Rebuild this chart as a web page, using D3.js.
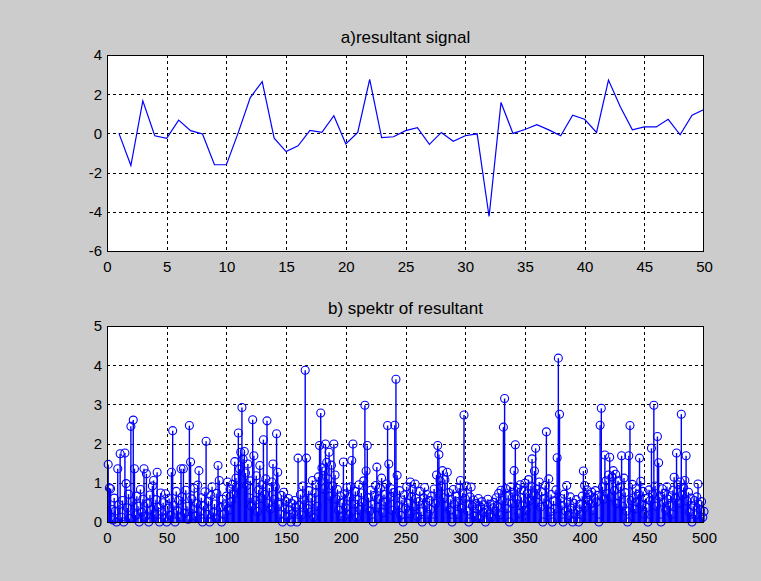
<!DOCTYPE html>
<html><head><meta charset="utf-8">
<script src="https://cdn.jsdelivr.net/npm/d3@7"></script>
<style>
html,body{margin:0;padding:0;background:#cccccc;}
svg{display:block;}
text{font-family:"Liberation Sans",Arial,Helvetica,sans-serif;fill:#000;}
</style></head>
<body>
<script>
// ---- top subplot: resultant signal (samples 1..50)
const signalX = d3.range(1, 51);
const signalY = [0.0,-1.64,1.66,-0.12,-0.25,0.68,0.14,-0.03,-1.6,-1.6,
  0.05,1.83,2.64,-0.24,-0.93,-0.63,0.15,0.05,0.9,-0.54,
  0.05,2.76,-0.22,-0.17,0.14,0.29,-0.56,0.05,-0.4,-0.12,
  -0.02,-4.24,1.58,0.0,0.2,0.45,0.18,-0.12,0.93,0.72,
  0.05,2.72,1.35,0.18,0.33,0.33,0.72,-0.07,0.93,1.22];
const topXTicks = [0,5,10,15,20,25,30,35,40,45,50];
const topYTicks = [-6,-4,-2,0,2,4];
const topTitle = "a)resultant signal";

// ---- bottom subplot: spectrum of resultant (samples 1..500)
const spectrumY = [
1.47,0.87,0.85,0.32,0.05,0.61,0.28,0.0,1.36,0.44,1.74,0.12,0.55,0.0,1.76,0.98,0.36,0.71,0.09,2.44,
0.52,2.6,1.36,0.18,0.66,0.4,0.0,0.83,0.25,0.58,1.36,0.14,1.23,0.47,0.0,0.69,0.31,0.92,1.06,0.2,
0.57,1.27,0.38,0.0,0.74,0.26,0.49,0.11,0.72,0.0,0.35,0.6,0.17,1.27,2.33,0.42,0.0,0.78,0.29,0.55,
0.13,1.36,0.64,1.36,0.22,0.81,0.4,0.07,2.46,1.53,0.59,0.33,0.86,0.15,0.48,0.94,1.31,0.27,0.62,0.0,
0.41,0.77,2.06,0.19,0.53,0.0,0.68,0.9,0.24,0.46,0.1,0.73,1.44,1.06,0.37,0.0,0.58,0.21,0.44,0.66,
1.02,0.3,0.84,0.52,0.96,0.71,1.54,1.12,0.88,2.27,1.35,1.78,2.92,1.6,1.8,1.25,0.93,1.48,0.62,1.05,
0.4,2.61,1.69,0.55,1.18,0.27,0.82,1.44,0.6,0.95,2.1,0.7,1.1,2.58,0.48,0.87,0.33,1.02,1.48,0.58,
0.9,2.25,1.27,0.45,0.2,0.68,0.0,0.76,0.36,0.52,0.14,0.6,0.31,0.0,0.47,0.22,0.55,0.38,0.0,1.63,
0.43,0.7,0.18,0.92,0.56,3.87,1.63,0.34,0.8,0.25,0.61,1.06,0.12,0.74,0.95,0.4,1.15,1.95,2.78,1.38,
0.85,1.3,1.99,1.52,1.1,1.78,0.66,1.45,0.92,1.99,1.2,0.58,0.83,0.3,0.67,0.15,0.49,1.53,0.72,0.36,
0.88,0.2,0.64,0.9,1.57,1.99,0.46,0.78,0.11,0.57,0.95,0.32,0.74,0.5,1.05,2.98,1.3,1.95,0.62,0.28,
0.81,0.45,0.0,0.68,0.93,1.4,0.37,0.59,0.86,1.12,0.24,0.7,0.51,0.97,2.46,1.48,0.63,0.85,0.3,0.75,
2.47,3.64,1.19,0.42,0.8,0.17,0.56,0.0,0.69,0.34,0.9,0.48,0.21,1.02,0.65,0.83,0.39,0.97,0.6,0.14,
0.52,0.78,0.26,0.0,0.61,0.88,0.43,0.7,0.19,0.55,0.32,0.66,0.0,0.84,0.47,1.2,1.95,1.72,1.05,0.9,
1.31,0.62,1.08,0.4,1.27,0.75,0.3,0.58,0.0,0.83,0.45,0.66,0.2,0.52,0.87,1.06,0.35,0.74,2.73,0.6,
0.92,0.28,0.0,0.64,0.89,0.41,0.56,0.15,0.47,0.33,0.6,0.09,0.38,0.52,0.24,0.44,0.0,0.31,0.58,0.2,
0.45,0.12,0.36,0.5,0.27,0.62,0.4,0.73,0.18,0.81,0.55,2.42,3.15,0.85,0.34,0.68,0.0,0.9,0.47,0.76,
1.31,1.97,0.58,0.86,0.22,0.95,0.63,0.41,0.8,0.99,0.3,0.72,1.08,0.55,0.92,1.61,0.67,1.3,1.88,0.84,
0.5,1.02,0.38,0.77,0.0,0.6,0.93,2.3,0.45,1.1,0.26,0.7,0.0,0.54,0.33,0.82,1.64,4.18,2.75,0.6,
0.42,0.0,0.71,0.28,0.93,0.5,0.17,0.64,0.35,0.0,0.48,0.22,0.57,0.31,0.0,0.45,0.19,0.66,1.3,0.93,
0.38,0.82,0.55,0.7,0.46,0.76,0.3,0.62,0.8,0.51,0.68,0.0,2.47,2.9,0.9,0.58,1.71,1.05,0.72,1.2,
1.65,0.63,1.15,1.31,0.8,1.22,0.47,1.05,0.66,0.9,1.69,0.4,1.12,0.75,0.28,0.0,1.69,2.46,0.55,0.96,
0.62,0.33,0.85,0.5,0.71,1.63,1.04,0.44,0.78,0.2,0.6,0.37,0.0,0.82,0.55,1.88,0.7,2.98,0.92,0.4,
2.18,1.51,0.64,0.0,0.85,0.5,0.73,0.3,0.9,0.58,0.42,0.67,0.2,0.81,1.14,0.6,1.76,0.95,0.48,1.02,
2.75,0.7,0.88,1.06,1.69,0.53,0.76,0.25,0.61,0.0,0.4,0.55,0.18,0.64,0.97,0.45,0.3,0.52,0.12,0.27];
const spectrumX = d3.range(1, spectrumY.length + 1);
const botXTicks = [0,50,100,150,200,250,300,350,400,450,500];
const botYTicks = [0,1,2,3,4,5];
const botTitle = "b) spektr of resultant";

const W = 761, H = 581;
const svg = d3.select("body").append("svg").attr("width", W).attr("height", H);
svg.append("rect").attr("width", W).attr("height", H).attr("fill", "#cccccc");

function drawAxes(box, xDom, yDom, xTicks, yTicks, title) {
  const x = d3.scaleLinear().domain(xDom).range([box.l, box.r]);
  const y = d3.scaleLinear().domain(yDom).range([box.b, box.t]);
  const g = svg.append("g");
  g.append("rect").attr("x", box.l).attr("y", box.t)
    .attr("width", box.r - box.l).attr("height", box.b - box.t).attr("fill", "#fff");
  // grid
  const grid = g.append("g").attr("stroke", "#000").attr("stroke-width", 1)
    .attr("stroke-dasharray", "3,3").attr("shape-rendering", "crispEdges");
  xTicks.slice(1, -1).forEach(v => grid.append("line")
    .attr("x1", Math.round(x(v)) + 0.5).attr("x2", Math.round(x(v)) + 0.5)
    .attr("y1", box.t).attr("y2", box.b));
  yTicks.slice(1, -1).forEach(v => grid.append("line")
    .attr("y1", Math.round(y(v)) + 0.5).attr("y2", Math.round(y(v)) + 0.5)
    .attr("x1", box.l).attr("x2", box.r));
  // axes with labels
  const fmt = d => String(d);
  const xa = g.append("g").attr("transform", `translate(0,${box.b})`)
    .call(d3.axisBottom(x).tickValues(xTicks).tickFormat(fmt).tickSize(0).tickPadding(10));
  const ya = g.append("g").attr("transform", `translate(${box.l},0)`)
    .call(d3.axisLeft(y).tickValues(yTicks).tickFormat(fmt).tickSize(0).tickPadding(5));
  [xa, ya].forEach(a => {
    a.select(".domain").remove();
    a.selectAll("text").attr("font-size", 15)
      .style("font-family", '"Liberation Sans",Arial,sans-serif').attr("fill", "#000");
  });
  g.append("text").attr("x", (box.l + box.r) / 2).attr("y", box.t - 12)
    .attr("text-anchor", "middle").attr("font-size", 17).text(title);
  return {x, y, g};
}

function drawBox(box) {
  const g = svg.append("g");
  g.append("rect").attr("x", box.l + 0.5).attr("y", box.t + 0.5)
    .attr("width", box.r - box.l - 1).attr("height", box.b - box.t)
    .attr("fill", "none").attr("stroke", "#000").attr("stroke-width", 1)
    .attr("shape-rendering", "crispEdges");
}

// top subplot
const box1 = {l: 107, r: 704, t: 55, b: 251};
const a1 = drawAxes(box1, [0, 50], [-6, 4], topXTicks, topYTicks, topTitle);
const line = d3.line().x((d, i) => a1.x(signalX[i])).y(d => a1.y(d));
svg.append("path").datum(signalY).attr("d", line)
  .attr("fill", "none").attr("stroke", "#0000ff").attr("stroke-width", 1.2);
drawBox(box1);

// bottom subplot
const box2 = {l: 107, r: 704, t: 326, b: 522};
const a2 = drawAxes(box2, [0, 500], [0, 5], botXTicks, botYTicks, botTitle);
const stems = svg.append("g");
stems.selectAll("line").data(spectrumY).join("line")
  .attr("x1", (d, i) => a2.x(spectrumX[i])).attr("x2", (d, i) => a2.x(spectrumX[i]))
  .attr("y1", a2.y(0)).attr("y2", d => a2.y(d))
  .attr("stroke", "#0000ff").attr("stroke-width", 1.4);
stems.selectAll("circle").data(spectrumY).join("circle")
  .attr("cx", (d, i) => a2.x(spectrumX[i])).attr("cy", d => a2.y(d)).attr("r", 4)
  .attr("fill", "none").attr("stroke", "#0000ff").attr("stroke-width", 1.1);
drawBox(box2);
</script>
</body></html>
